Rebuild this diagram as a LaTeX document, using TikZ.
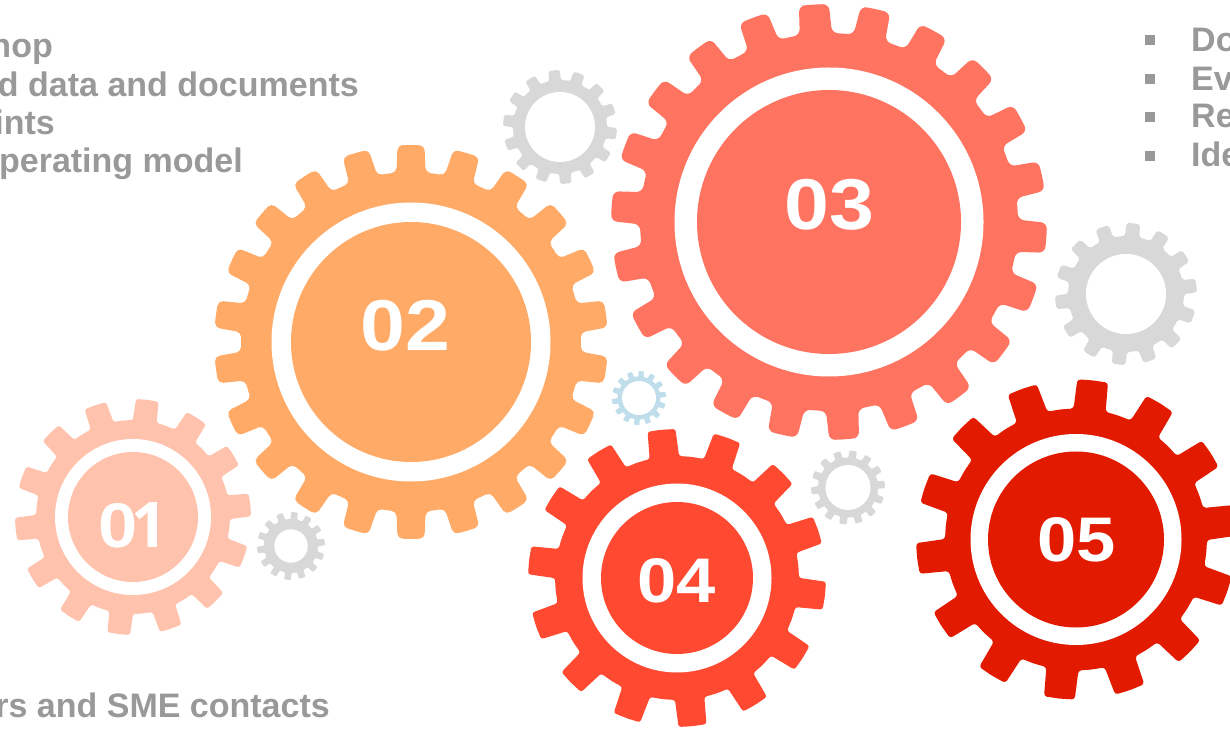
\documentclass[tikz,border=0pt]{standalone}
\usepackage{fontspec}
\setmainfont{Liberation Sans}
\newfontfamily\digfont[FakeStretch=1.12]{Liberation Sans}
\newfontfamily\onefont{Open Sans}
\definecolor{gA}{HTML}{FFC2AC}
\definecolor{gB}{HTML}{FFAB67}
\definecolor{gC}{HTML}{FF7361}
\definecolor{gD}{HTML}{FF4930}
\definecolor{gE}{HTML}{E21B00}
\definecolor{gGray}{HTML}{D8D8D8}
\definecolor{gBlue}{HTML}{BFDDEB}
\definecolor{txtGray}{HTML}{999999}
% colour, cx, cy (image px), tip radius, root radius, teeth, first tooth angle, corner, tooth fraction
\newcommand{\gearwheel}[9]{%
  \pgfmathsetmacro\cyy{728-#3}%
  \pgfmathsetmacro\gp{360/#6}%
  \pgfmathsetmacro\ta{#9*\gp}%
  \pgfmathsetmacro\ra{(#9+0.06)*\gp}%
  \begin{scope}[shift={(#2,\cyy)}]
    \fill[#1,rounded corners=#8pt] ({#7+\ta/2}:#4)
      \foreach \k [evaluate=\k as \a using {#7-(\k-1)*\gp}] in {1,...,#6} {
        -- ({\a}:#4) -- ({\a-\ta}:#4) -- ({\a-\ra}:#5) -- ({\a-\gp/2}:#5)
        -- ({\a-\gp+\ra}:#5) -- ({\a-\gp+\ta}:#4)
      } -- cycle;
  \end{scope}}
% colour, cx, cy, ring radius, disc radius
\newcommand{\gearhub}[5]{%
  \pgfmathsetmacro\cyy{728-#3}%
  \fill[white] (#2,\cyy) circle[radius=#4];
  \fill[#1] (#2,\cyy) circle[radius=#5];}
\newcommand{\gearhole}[4]{%
  \pgfmathsetmacro\cyy{728-#3}%
  \fill[white] (#2,\cyy) circle[radius=#4];}
\tikzset{
  x=1pt,y=1pt,
  numlabel/.style={text=white,inner sep=0pt,font=\digfont\bfseries\fontsize{#1}{#1}\selectfont},
  listtext/.style={text=txtGray,inner sep=0pt,font=\bfseries\fontsize{34}{34}\selectfont},
  bulletsq/.style={fill=txtGray,inner sep=0pt,minimum size=10pt,draw=none}
}
\begin{document}
\begin{tikzpicture}
\useasboundingbox (0,0) rectangle (1230,728);
\clip (0,0) rectangle (1230,728);
% small gears
\gearwheel{gGray}{560}{127}{57}{47}{14}{96}{1.5}{0.22}
\gearhole{gGray}{560}{127}{35}
\gearwheel{gGray}{1126}{294}{71}{58}{14}{84}{2}{0.215}
\gearhole{gGray}{1126}{294}{40}
\gearwheel{gBlue}{639}{398}{27}{21.5}{14}{85}{0.6}{0.22}
\gearhole{gBlue}{639}{398}{17}
\gearwheel{gGray}{848}{487.5}{37}{30}{14}{82}{0.8}{0.22}
\gearhole{gGray}{848}{487.5}{22.5}
\gearwheel{gGray}{291}{546}{34}{27}{14}{84}{0.8}{0.22}
\gearhole{gGray}{291}{546}{16.7}
% big gears
\gearwheel{gA}{133}{517}{118}{97}{14}{83}{2.5}{0.215}
\gearhub{gA}{133}{517}{78}{65}
\gearwheel{gB}{411}{342}{197}{170}{22}{90}{5}{0.24}
\gearhub{gB}{411}{342}{139.5}{120}
\gearwheel{gC}{829}{222}{218}{189}{22}{94}{6}{0.24}
\gearhub{gC}{829}{222}{154.5}{132}
\gearwheel{gD}{677}{578}{149}{122}{14}{96}{2.5}{0.21}
\gearhub{gD}{677}{578}{94.5}{76}
\gearwheel{gE}{1076}{539.5}{160}{131}{14}{84}{3}{0.215}
\gearhub{gE}{1076}{539.5}{105.5}{88}
% numbers
\node[numlabel=63] (n1) at (133,203) {0\kern-6pt{\onefont\bfseries 1}};
\node[numlabel=72] (n2) at (405.5,402) {02};
\node[numlabel=72] (n3) at (829,523) {03};
\node[numlabel=63] (n4) at (677,147) {04};
\node[numlabel=63] (n5) at (1076.5,188) {05};
% left list
\node[listtext,anchor=base east] (l1) at (53,670) {hop};
\node[listtext,anchor=base east] (l2) at (359,631) {d data and documents};
\node[listtext,anchor=base east] (l3) at (55,593) {ints};
\node[listtext,anchor=base east] (l4) at (243,555) {perating model};
% bottom text
\node[listtext,anchor=base east] (l5) at (330,11) {rs and SME contacts};
% right list
\node[bulletsq] (b1) at (1150,688) {};
\node[bulletsq] (b2) at (1150,649) {};
\node[bulletsq] (b3) at (1150,611) {};
\node[bulletsq] (b4) at (1150,572) {};
\node[listtext,anchor=base west] (r1) at (1191,676) {Do};
\node[listtext,anchor=base west] (r2) at (1191,637) {Ev};
\node[listtext,anchor=base west] (r3) at (1191,600) {Re};
\node[listtext,anchor=base west] (r4) at (1191,561) {Ide};
\end{tikzpicture}
\end{document}
